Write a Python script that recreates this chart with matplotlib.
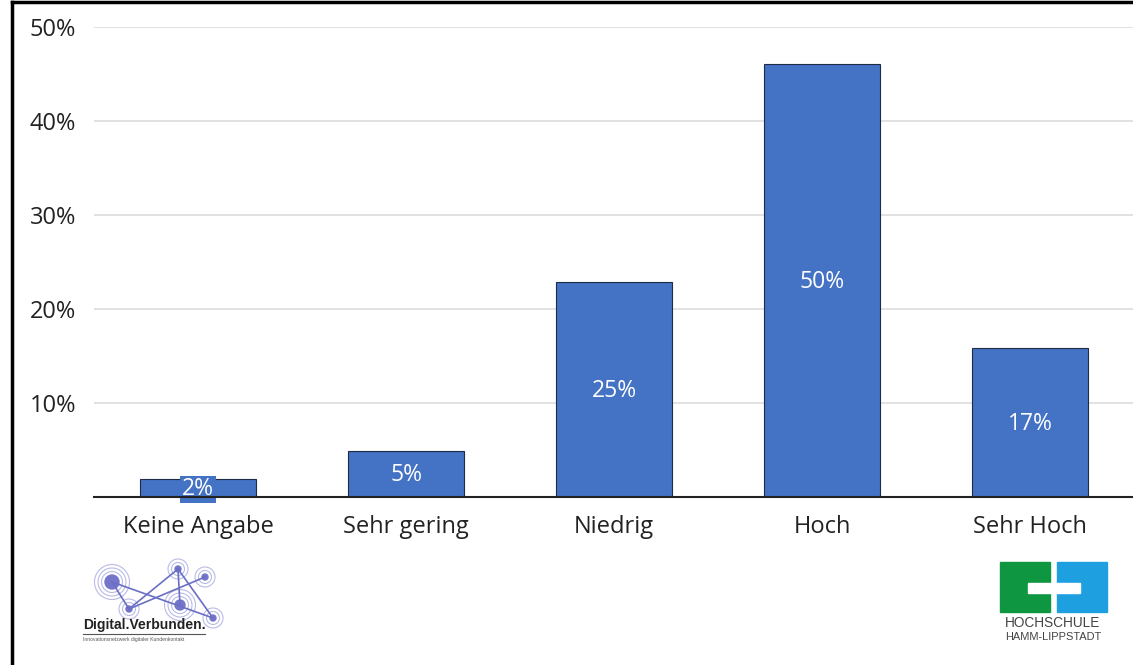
import matplotlib.pyplot as plt
from matplotlib.patches import Rectangle, Circle
from matplotlib.lines import Line2D

plt.rcParams['font.family'] = ['Open Sans', 'DejaVu Sans']

categories = ["Keine Angabe", "Sehr gering", "Niedrig", "Hoch", "Sehr Hoch"]
bar_values = [1.9, 4.9, 22.9, 46.1, 15.9]
bar_labels = ["2%", "5%", "25%", "50%", "17%"]
y_ticks = [10, 20, 30, 40, 50]
y_tick_labels = ["10%", "20%", "30%", "40%", "50%"]

W, H = 1133, 665
fig = plt.figure(figsize=(W / 100, H / 100), dpi=100)

# plot area in pixel coords of the reference
left, right, top, bottom = 94, 1134, 27, 497
ax = fig.add_axes([left / W, 1 - bottom / H, (right - left) / W, (bottom - top) / H])

blue = "#4472C4"
x = range(len(categories))
ax.bar(x, bar_values, width=0.56, color=blue, edgecolor="#1f2a44", linewidth=0.8, zorder=3)
for i, (v, lab) in enumerate(zip(bar_values, bar_labels)):
    ax.text(i, v / 2 - 0.15, lab, ha="center", va="center", color="white", fontsize=16.5, zorder=4,
            bbox=dict(boxstyle="square,pad=0.08", fc=blue, ec="none"))

ax.set_xlim(-0.5, len(categories) - 0.5)
ax.set_ylim(0, 50)
ax.set_yticks(y_ticks)
ax.set_yticklabels(y_tick_labels, fontsize=17, color="#222222")
ax.set_xticks(list(x))
ax.set_xticklabels(categories, fontsize=17, color="#222222")
ax.tick_params(axis="y", length=0, pad=13)
ax.tick_params(axis="x", length=0, pad=13)
ax.yaxis.grid(True, color="#dcdcdc", linewidth=1.2, zorder=0)
for s in ["top", "right", "left"]:
    ax.spines[s].set_visible(False)
ax.spines["bottom"].set_color("#222222")
ax.spines["bottom"].set_linewidth(1.5)
ax.spines["bottom"].set_zorder(5)

# overlay axes in pixel coords for border and logos
ov = fig.add_axes([0, 0, 1, 1], facecolor="none")
ov.set_xlim(0, W)
ov.set_ylim(H, 0)
ov.axis("off")

ov.add_line(Line2D([12, W], [2, 2], color="black", linewidth=2.5))
ov.add_line(Line2D([12, 12], [2, H], color="black", linewidth=2.5))

# left logo: network of nodes
nodes = {"a": (112, 582, 7, 3), "b": (178, 569, 3, 2), "c": (205, 577, 3, 2),
         "d": (129, 609, 3, 2), "e": (180, 605, 5, 3), "f": (213, 618, 3, 2)}
edges = [("a", "d"), ("a", "f"), ("d", "b"), ("b", "f"), ("d", "c"), ("b", "e")]
for p, q in edges:
    ov.add_line(Line2D([nodes[p][0], nodes[q][0]], [nodes[p][1], nodes[q][1]],
                       color="#6b6fc4", linewidth=1.2))
for xc, yc, r, rings in nodes.values():
    for k in range(1, rings + 1):
        ov.add_patch(Circle((xc, yc), r + k * 3.5, fill=False, ec="#b9bbe6", lw=0.8))
    ov.add_patch(Circle((xc, yc), r, color="#7376c9"))
ov.text(83, 625, "Digital.Verbunden.", fontsize=10, fontweight="bold", color="#222222",
        family=["Liberation Sans", "DejaVu Sans"], va="center", ha="left")
ov.add_line(Line2D([83, 205], [634, 634], color="#555555", linewidth=0.8))
ov.text(83, 640, "Innovationsnetzwerk digitaler Kundenkontakt", fontsize=3.6, color="#555555",
        family=["Liberation Sans", "DejaVu Sans"], va="center", ha="left")

# right logo
ov.add_patch(Rectangle((1000, 562), 50, 50, color="#0e9640"))
ov.add_patch(Rectangle((1057, 562), 50, 50, color="#1ea0e0"))
ov.add_patch(Rectangle((1028, 583), 52, 10, color="white"))
ov.text(1053, 623, "HOCHSCHULE", fontsize=9.8, color="#444444", ha="center", va="center",
        family=["Liberation Sans", "DejaVu Sans"])
ov.text(1053, 637, "HAMM-LIPPSTADT", fontsize=7.9, color="#444444", ha="center", va="center",
        family=["Liberation Sans", "DejaVu Sans"])

fig.savefig("out.png", dpi=100)
